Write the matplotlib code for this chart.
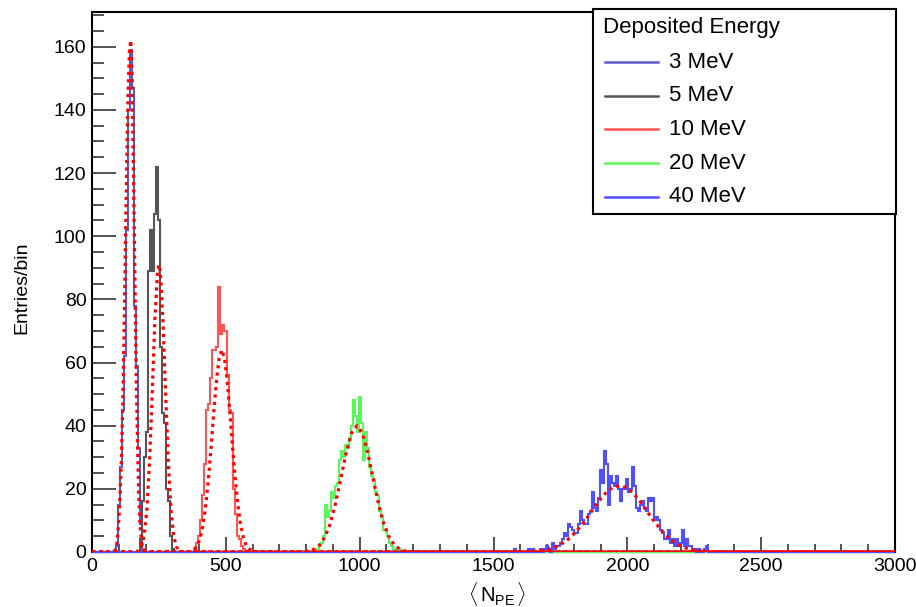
import numpy as np
import matplotlib
matplotlib.use("Agg")
import matplotlib.pyplot as plt
from matplotlib.lines import Line2D
from matplotlib.patches import Rectangle
from matplotlib.ticker import MultipleLocator

plt.rcParams['font.family'] = ['Liberation Sans', 'DejaVu Sans']
plt.rcParams['mathtext.fontset'] = 'custom'
plt.rcParams['mathtext.rm'] = 'Liberation Sans'
plt.rcParams['mathtext.it'] = 'Liberation Sans'

# Histogram binning: 400 bins over 0-3000 PE (7.5 PE per bin)
x_min, x_max, n_bins = 0, 3000, 400

labels = ["3 MeV", "5 MeV", "10 MeV", "20 MeV", "40 MeV"]
colors = ["#5a5ac8", "#555555", "#ff5555", "#5cf55c", "#5050ff"]

# Lower edge of the first filled bin and the bin contents, per energy
start_3 = 90
counts_3 = [2, 15, 27, 45, 62, 102, 140, 159, 147, 78, 59, 33, 9]

start_5 = 180
counts_5 = [4, 16, 30, 38, 89, 102, 89, 107, 122, 105, 65, 44, 41, 20, 16, 5, 1]

start_10 = 382.5
counts_10 = [1, 3, 5, 10, 18, 28, 45, 47, 55, 64, 64, 65, 84, 69, 72, 70, 56, 45,
             44, 20, 12, 5, 4, 2, 1]

start_20 = 825
counts_20 = [1, 0, 1, 2, 3, 5, 15, 11, 13, 19,
             17, 21, 22, 29, 32, 30, 34, 33, 36, 40,
             48, 43, 38, 49, 41, 29, 38, 33, 27, 24,
             23, 19, 18, 13, 11, 7, 7, 5, 3, 2,
             1, 1, 0, 1]

start_40 = 1575
counts_40 = [1, 0, 0, 0, 0, 0, 0, 1, 0, 1,
             0, 0, 0, 1, 0, 1, 2, 1, 0, 3,
             1, 2, 2, 3, 4, 6, 5, 9, 8, 7,
             6, 6, 9, 13, 10, 9, 9, 12, 13, 19,
             14, 13, 17, 26, 22, 32, 28, 15, 24, 22,
             21, 24, 20, 16, 20, 20, 23, 19, 20, 27,
             21, 14, 13, 15, 16, 14, 13, 17, 16, 17,
             10, 11, 10, 7, 6, 4, 4, 7, 3, 4,
             2, 4, 2, 3, 7, 2, 4, 2, 2, 1,
             1, 0, 1, 0, 0, 1, 2, 0]

# Fitted curves (red dotted)
fit_3_x = [0, 80, 90, 95, 100, 105, 110, 115, 120, 125, 130, 135, 140, 145, 150,
           155, 160, 165, 170, 175, 180, 185, 190, 200, 3000]
fit_3_y = [0, 0, 1, 4, 10, 18, 30, 47, 70, 97, 124, 146, 159, 162, 150,
           120, 88, 58, 34, 17, 8, 3, 1, 0, 0]

fit_5_x = [0, 165, 175, 185, 195, 205, 215, 225, 235, 245, 250, 255, 265, 275,
           285, 295, 305, 315, 325, 340, 3000]
fit_5_y = [0, 0.1, 0.45, 1.7, 5.2, 13.4, 28.6, 50.4, 73.5, 88.9, 91, 88.9, 73.5, 50.4,
           28.6, 13.4, 5.2, 1.7, 0.45, 0, 0]

fit_10_x = [0, 365, 385, 395, 405, 415, 425, 435, 445, 455, 465, 475, 485, 495, 505,
            515, 525, 535, 545, 555, 565, 575, 585, 605, 625, 3000]
fit_10_y = [0, 0, 1.1, 2.3, 4.7, 8.7, 14.8, 23.1, 33.3, 44.3, 54.4, 61.4, 64, 61.4, 54.4,
            44.3, 33.3, 23.1, 14.8, 8.7, 4.7, 2.3, 1.1, 0.2, 0, 0]

fit_20_x = [0, 770, 790, 810, 830, 850, 870, 890, 910, 930, 950, 970, 990, 1010,
            1030, 1050, 1070, 1090, 1110, 1130, 1150, 1170, 1190, 1210, 3000]
fit_20_y = [0, 0, 0.1, 0.3, 0.9, 2.2, 4.7, 9.0, 15.4, 23.4, 31.5, 37.7, 40, 37.7,
            31.5, 23.4, 15.4, 9.0, 4.7, 2.2, 0.9, 0.3, 0.1, 0, 0]

fit_40_x = [0, 1570, 1595, 1620, 1645, 1670, 1695, 1720, 1745, 1770, 1795, 1820,
            1845, 1870, 1895, 1920, 1945, 1970, 1995, 2020, 2045, 2070, 2095, 2120,
            2145, 2170, 2195, 2220, 2245, 2270, 2295, 2320, 2345, 2370, 3000]
fit_40_y = [0, 0, 0.02, 0.08, 0.17, 0.35, 0.68, 1.2, 2.1, 3.4, 5.2, 7.6,
            10.3, 13.3, 16.3, 18.8, 20.4, 21, 20.4, 18.8, 16.3, 13.3, 10.3, 7.6,
            5.2, 3.4, 2.1, 1.2, 0.68, 0.35, 0.17, 0.08, 0.02, 0, 0]

starts = [start_3, start_5, start_10, start_20, start_40]
all_counts = [counts_3, counts_5, counts_10, counts_20, counts_40]
fits = [(fit_3_x, fit_3_y), (fit_5_x, fit_5_y), (fit_10_x, fit_10_y),
        (fit_20_x, fit_20_y), (fit_40_x, fit_40_y)]

W, H = 916, 607


def fx(px):
    return px / W


def fy(py):
    return 1 - py / H


fig = plt.figure(figsize=(W / 100, H / 100), dpi=100)
ax = fig.add_axes([fx(92), fy(552), (895 - 92) / W, (552 - 12) / H])

edges = np.linspace(x_min, x_max, n_bins + 1)
width = (x_max - x_min) / n_bins

# Histograms (filled over the whole range, zero outside the peaks)
for start, counts, color in zip(starts, all_counts, colors):
    vals = np.zeros(n_bins)
    i0 = int(round((start - x_min) / width))
    vals[i0:i0 + len(counts)] = counts
    ax.stairs(vals, edges, color=color, lw=1.5, baseline=None,
              clip_on=False, zorder=3)

# Fits on top
for x, y in fits:
    ax.plot(x, y, color="red", lw=2.3, ls=(0, (1, 1.3)), zorder=4)

ax.set_xlim(x_min, x_max)
ax.set_ylim(0, 171)

ax.xaxis.set_major_locator(MultipleLocator(500))
ax.xaxis.set_minor_locator(MultipleLocator(100))
ax.yaxis.set_major_locator(MultipleLocator(20))
ax.yaxis.set_minor_locator(MultipleLocator(5))

ax.tick_params(which="both", direction="in", top=False, right=False, color="#444444")
ax.tick_params(axis="y", which="major", length=17, width=1.3, pad=4, labelsize=14)
ax.tick_params(axis="y", which="minor", length=8.5, width=1.3)
ax.tick_params(axis="x", which="major", length=11, width=1.3, pad=4, labelsize=14)
ax.tick_params(axis="x", which="minor", length=5.5, width=1.3)

for sp in ax.spines.values():
    sp.set_linewidth(1.5)
    sp.set_color("black")

ax.set_ylabel("Entries/bin", fontsize=14)
ax.yaxis.set_label_coords(-0.077, 0.49)
ax.set_xlabel(r"$\langle\,N_{\mathrm{PE}}\,\rangle$", fontsize=14.5)
ax.xaxis.set_label_coords(0.505, -0.051)

# Legend box drawn by hand, ROOT style
fig.add_artist(Rectangle((fx(593), fy(214)), (896 - 593) / W, (214 - 9) / H,
                         transform=fig.transFigure, facecolor="white",
                         edgecolor="black", lw=1.5, zorder=10))
fig.text(fx(603), fy(27), "Deposited Energy", fontsize=16, va="center",
         ha="left", zorder=11)
for i, (label, color) in enumerate(zip(labels, colors)):
    row_y = 62 + i * 33.7
    fig.add_artist(Line2D([fx(605), fx(658)], [fy(row_y), fy(row_y)],
                          transform=fig.transFigure, color=color, lw=1.8, zorder=11))
    fig.text(fx(669), fy(row_y), label, fontsize=16, va="center", ha="left", zorder=11)

fig.savefig("out.png", dpi=100)
